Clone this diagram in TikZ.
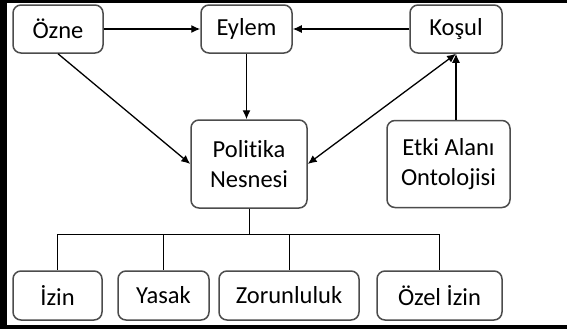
\documentclass[tikz,border=0pt]{standalone}
\usepackage{fontspec}
\setmainfont{Carlito}[Ligatures=NoCommon]
\usetikzlibrary{positioning,arrows.meta}
\begin{document}
\begin{tikzpicture}[x=1pt,y=-1pt]
\tikzset{>={Latex[length=9pt,width=8pt]}}

\tikzstyle{block} = [rectangle, draw=black!70, line width=1.5pt, rounded corners=8pt,
                     text centered, align=center, font=\fontsize{24.5}{29.5}\selectfont,
                     minimum height=48pt]
\tikzstyle{link} = [line width=1.3pt]
\tikzstyle{branch} = [line width=1pt]

\useasboundingbox (0,0) rectangle (567,333);
\fill[white] (0,0) rectangle (567,333);
\fill (0,0) rectangle (567,3);
\fill (0,0) rectangle (7,329);
\fill (0,325) rectangle (567,329);

\node[block,minimum width=90pt]                     (OZ) at (58,29)    {Özne};
\node[block,minimum width=91pt]                     (EY) at (246.5,29) {Eylem};
\node[block,minimum width=92pt]                     (KO) at (456,29)   {Koşul};
\node[block,minimum width=116pt,minimum height=88pt] (PN) at (249,164)  {Politika\\Nesnesi};
\node[block,minimum width=123pt,minimum height=87pt] (EA) at (448.5,164) {Etki Alanı\\Ontolojisi};

\node[block,minimum width=89pt,minimum height=49pt]  (IZ) at (57.5,295.5)  {İzin};
\node[block,minimum width=91pt,minimum height=49pt]  (YA) at (163.5,295.5) {Yasak};
\node[block,minimum width=140pt,minimum height=49pt] (ZO) at (289,295.5)   {Zorunluluk};
\node[block,minimum width=125pt,minimum height=49pt] (OI) at (439.5,295.5) {Özel İzin};

\coordinate (bus) at (247,234);

\draw[link,->]  (OZ.east)  -- (EY.west);
\draw[link,->]  (KO.west)  -- (EY.east);
\draw[link,->]  (EY.south) -- (EY.south |- PN.north);
\draw[link,->]  (OZ.south) -- (PN.west);
\draw[link,<->] (PN.east)  -- (KO.south);
\draw[link,->]  (KO.south |- EA.north) -- (KO.south);

\foreach \b in {IZ,YA,ZO,OI}
  \draw[branch] (PN.south) -- (PN.south |- bus) -| (\b.north);

\end{tikzpicture}
\end{document}
